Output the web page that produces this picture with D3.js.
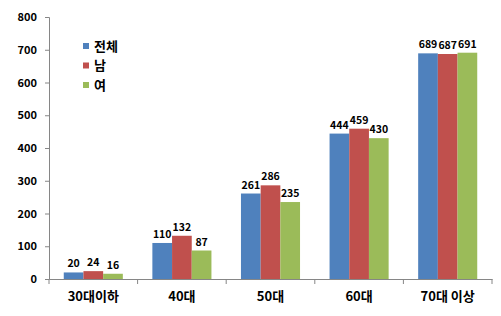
<!DOCTYPE html>
<html>
<head>
<meta charset="utf-8">
<script src="https://cdn.jsdelivr.net/npm/d3@7"></script>
<style>
  body { margin: 0; background: #fff; }
  text { font-family: "Noto Sans CJK KR", "Noto Sans", sans-serif; font-weight: bold; fill: #000; }
</style>
</head>
<body>
<div id="chart"></div>
<script>
// categories and series
var categories = ["30대이하", "40대", "50대", "60대", "70대 이상"];
var seriesNames = ["전체", "남", "여"];
var total = [20, 110, 261, 444, 689];
var male = [24, 132, 286, 459, 687];
var female = [16, 87, 235, 430, 691];
var yTicks = [0, 100, 200, 300, 400, 500, 600, 700, 800];
var colors = ["#4F81BD", "#C0504D", "#9BBB59"];

var width = 501, height = 316;
var margin = { top: 17, right: 9, bottom: 37, left: 49 };

var svg = d3.select("#chart").append("svg")
  .attr("width", width)
  .attr("height", height);

var x0 = d3.scaleBand()
  .domain(categories)
  .range([margin.left, width - margin.right])
  .paddingInner(0)
  .paddingOuter(0);

// group of three bars, gap of ~150% of a bar width
var barW = x0.bandwidth() / 4.5;
var x1 = d3.scaleBand()
  .domain(seriesNames)
  .range([0, barW * 3]);

var y = d3.scaleLinear()
  .domain([0, 800])
  .range([height - margin.bottom, margin.top]);

var rows = categories.map(function (c, i) {
  return { cat: c, vals: [total[i], male[i], female[i]] };
});

// bars
var groups = svg.selectAll(".grp")
  .data(rows).enter()
  .append("g")
  .attr("class", "grp")
  .attr("transform", function (d) {
    return "translate(" + (x0(d.cat) + (x0.bandwidth() - barW * 3) / 2) + ",0)";
  });

groups.selectAll("rect")
  .data(function (d) { return d.vals.map(function (v, k) { return { s: seriesNames[k], v: v, k: k }; }); })
  .enter().append("rect")
  .attr("x", function (d) { return x1(d.s); })
  .attr("y", function (d) { return y(d.v); })
  .attr("width", x1.bandwidth())
  .attr("height", function (d) { return y(0) - y(d.v); })
  .style("fill", function (d) { return colors[d.k]; });

// value labels
groups.selectAll("text.val")
  .data(function (d) { return d.vals.map(function (v, k) { return { s: seriesNames[k], v: v, k: k }; }); })
  .enter().append("text")
  .attr("class", "val")
  .attr("x", function (d) { return x1(d.s) + x1.bandwidth() / 2; })
  .attr("y", function (d) { return y(d.v) - 5; })
  .attr("text-anchor", "middle")
  .style("font-size", "10.5px")
  .text(function (d) { return d.v; });

// y axis
var yAxis = svg.append("g")
  .attr("transform", "translate(" + margin.left + ",0)")
  .call(d3.axisLeft(y).tickValues(yTicks).tickSize(4).tickPadding(8));
yAxis.selectAll("text").style("font-size", "11px");

// x axis with ticks on category boundaries
var xAxis = svg.append("g")
  .attr("transform", "translate(0," + y(0) + ")")
  .call(d3.axisBottom(x0).tickSize(0).tickPadding(13));
xAxis.selectAll("text").style("font-size", "13px");
xAxis.selectAll(".bound")
  .data(d3.range(categories.length + 1)).enter()
  .append("line")
  .attr("class", "bound")
  .attr("x1", function (i) { return margin.left + i * x0.step(); })
  .attr("x2", function (i) { return margin.left + i * x0.step(); })
  .attr("y1", 0).attr("y2", 5);

svg.selectAll(".domain, .tick line, .bound")
  .attr("stroke", "#868686");

// legend
var legend = svg.append("g")
  .attr("transform", "translate(83,43)");
var li = legend.selectAll("g")
  .data(seriesNames).enter()
  .append("g")
  .attr("transform", function (d, i) { return "translate(0," + i * 19.5 + ")"; });
li.append("rect")
  .attr("width", 6).attr("height", 6)
  .style("fill", function (d, i) { return colors[i]; });
li.append("text")
  .attr("x", 11).attr("y", 3)
  .attr("dy", "0.35em")
  .style("font-size", "13px")
  .text(function (d) { return d; });
</script>
</body>
</html>
